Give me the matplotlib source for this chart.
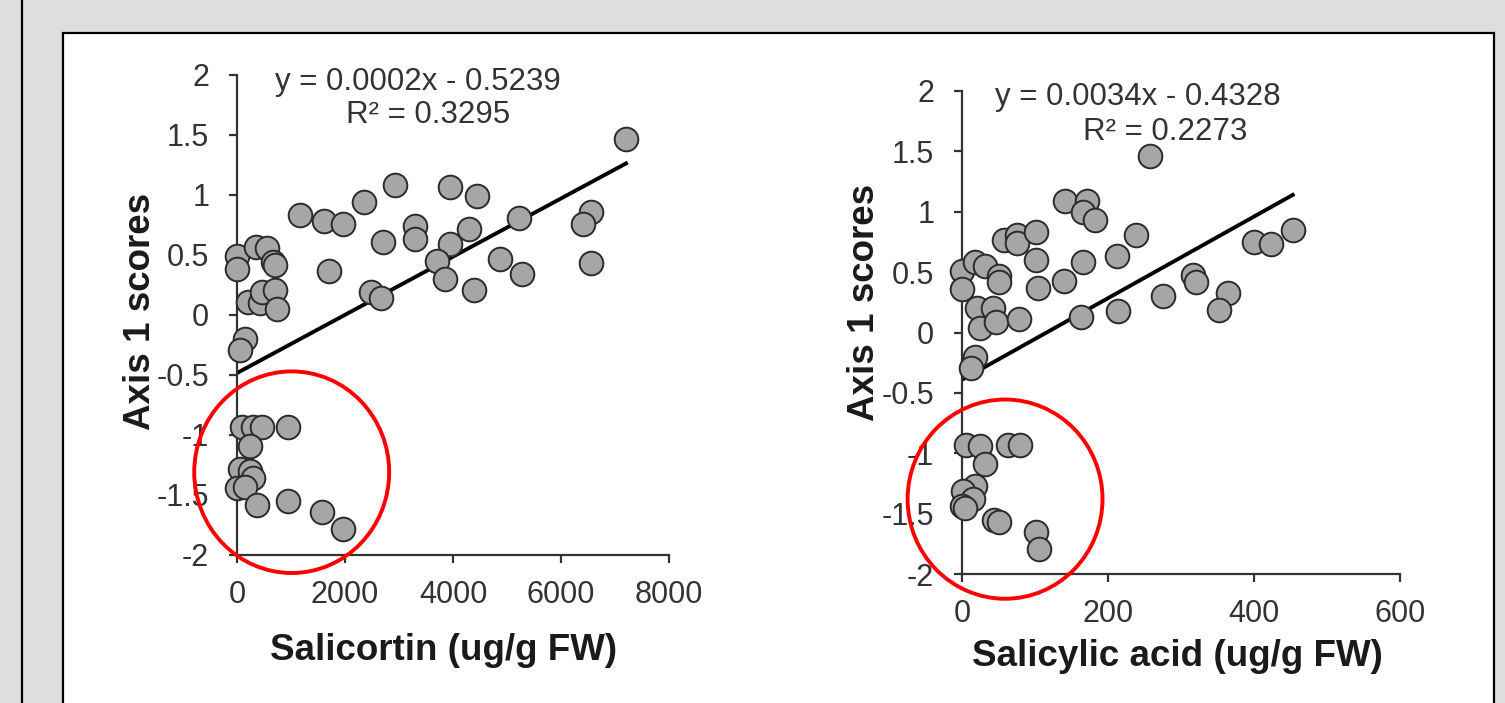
import numpy as np
import matplotlib.pyplot as plt
from matplotlib.patches import Ellipse, Rectangle
from matplotlib.lines import Line2D

plt.rcParams['font.family'] = ['Liberation Sans', 'DejaVu Sans']

# -------------------- data -------------------- #
salicortin = [0, 0, 350, 550, 670, 700, 205, 425, 457, 700, 746, 148, 56,
              1167, 1617, 1957, 2358, 2932, 1710, 2710, 2475, 2667, 3296, 3296,
              3944, 4450, 4297, 3944, 3698, 3852, 4389, 4870, 5272, 5222,
              6556, 6402, 6556, 7204,
              87, 302, 457, 950, 241, 56, 241, 302, 0, 148, 376, 950, 1580, 1969]
sal_scores = [0.49, 0.38, 0.57, 0.56, 0.44, 0.42, 0.11, 0.10, 0.19, 0.21, 0.05, -0.20, -0.29,
              0.83, 0.78, 0.76, 0.94, 1.08, 0.37, 0.61, 0.19, 0.14, 0.74, 0.63,
              1.07, 0.99, 0.72, 0.59, 0.45, 0.30, 0.21, 0.47, 0.34, 0.81,
              0.86, 0.76, 0.43, 1.47,
              -0.93, -0.93, -0.93, -0.93, -1.09, -1.28, -1.30, -1.36, -1.44, -1.43,
              -1.58, -1.55, -1.64, -1.78]

salicylic = [0, 0, 18, 31, 50, 50, 20, 43, 25, 47, 78, 58, 76, 76, 101, 101, 104,
             140, 166, 141, 171, 166, 182, 163, 212, 214, 239, 258, 276, 317, 321,
             365, 352, 400, 423, 453, 18, 13,
             6, 25, 31, 63, 79, 18, 2, 15, 0, 4, 44, 50, 102, 105]
sa_scores = [0.51, 0.36, 0.58, 0.55, 0.47, 0.42, 0.20, 0.20, 0.04, 0.09, 0.11, 0.77, 0.81,
             0.74, 0.83, 0.60, 0.37, 0.43, 0.58, 1.09, 1.09, 1.00, 0.93, 0.13, 0.63,
             0.18, 0.81, 1.46, 0.30, 0.48, 0.42, 0.33, 0.19, 0.75, 0.73, 0.85, -0.20, -0.29,
             -0.93, -0.94, -1.09, -0.93, -0.93, -1.27, -1.31, -1.38, -1.44, -1.45,
             -1.55, -1.57, -1.65, -1.79]

eq_lines = [("y = 0.0002x - 0.5239", "R² = 0.3295"),
            ("y = 0.0034x - 0.4328", "R² = 0.2273")]
x_labels = ["Salicortin (ug/g FW)", "Salicylic acid (ug/g FW)"]
x_ticks = [[0, 2000, 4000, 6000, 8000], [0, 200, 400, 600]]
y_ticks = [-2, -1.5, -1, -0.5, 0, 0.5, 1, 1.5, 2]
# red circles around the low group: centre x, centre y, width, height (data units)
circles = [(1013, -1.31, 3610, 1.68), (59, -1.38, 267, 1.65)]

W, H = 1505, 703
fig = plt.figure(figsize=(W / 100, H / 100), dpi=100)
fig.patch.set_facecolor('#dedede')

# frame: black line on the left and the white panel (behind the axes)
fig.add_artist(Line2D([22 / W, 22 / W], [0, 1], color='black', lw=1.6,
                      transform=fig.transFigure, zorder=-5))
fig.add_artist(Rectangle((63 / W, -0.1), (1494 - 63) / W, 1.1 - 33 / H,
                         transform=fig.transFigure, facecolor='white',
                         edgecolor='black', lw=1.6, zorder=-5))

axis_col = '#333333'
# axes boxes in pixels: left, right, top, bottom
boxes = [(237, 669, 75, 555), (962, 1400, 91, 574)]
label_pos = [((140, 311), (444, 650)), ((864, 302), (1177, 657))]
# centres of the two equation lines, pixels
eq_pos = [((418, 82), (428, 115)), ((1138, 97), (1165, 132))]
xs = [salicortin, salicylic]
ys = [sal_scores, sa_scores]

for i in range(2):
    l, r, t, b = boxes[i]
    ax = fig.add_axes([l / W, 1 - b / H, (r - l) / W, (b - t) / H])
    ax.set_facecolor('none')
    x = np.array(xs[i], dtype=float)
    y = np.array(ys[i], dtype=float)

    ax.set_xlim(x_ticks[i][0], x_ticks[i][-1])
    ax.set_ylim(-2, 2)
    ax.set_xticks(x_ticks[i])
    ax.set_yticks(y_ticks)
    ax.set_yticklabels([f"{v:g}" for v in y_ticks])
    for s in ['top', 'right']:
        ax.spines[s].set_visible(False)
    for s in ['left', 'bottom']:
        ax.spines[s].set_color(axis_col)
        ax.spines[s].set_linewidth(1.6)
    ax.tick_params(direction='out', length=6, width=1.6, color=axis_col,
                   labelsize=22, labelcolor='#333333')
    ax.tick_params(axis='x', pad=12)
    ax.tick_params(axis='y', pad=14)

    # linear trend line
    slope, inter = np.polyfit(x, y, 1)
    xx = np.array([0, x.max()])
    ax.plot(xx, slope * xx + inter, color='black', lw=2.8, zorder=2)

    ax.scatter(x, y, s=290, facecolor='#a6a6a6', edgecolor='#2b2b2b',
               linewidth=1.4, zorder=3, clip_on=False)

    cx, cy, cw, ch = circles[i]
    ax.add_patch(Ellipse((cx, cy), cw, ch, fill=False, edgecolor='#ff0000',
                         lw=2.8, clip_on=False, zorder=4))

    for (ex, ey), line in zip(eq_pos[i], eq_lines[i]):
        fig.text(ex / W, 1 - ey / H, line, ha='center', va='center',
                 fontsize=22.5, color='#333333')

    (ylx, yly), (xlx, xly) = label_pos[i]
    fig.text(ylx / W, 1 - yly / H, "Axis 1 scores", rotation=90, ha='center',
             va='center', fontsize=26.5, fontweight='bold', color='#1a1a1a')
    fig.text(xlx / W, 1 - xly / H, x_labels[i], ha='center', va='center',
             fontsize=26.5, fontweight='bold', color='#1a1a1a')

fig.savefig('out.png', dpi=100, facecolor=fig.get_facecolor())
